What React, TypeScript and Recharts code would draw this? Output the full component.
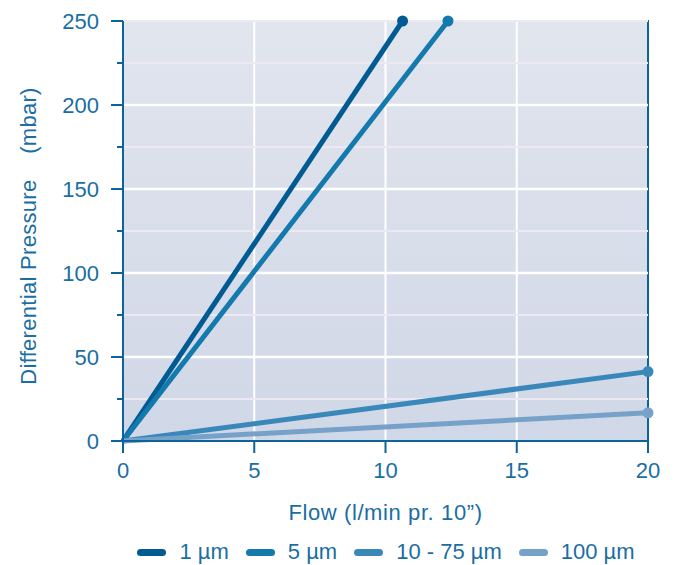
import React from 'react';
import {
  LineChart,
  Line,
  XAxis,
  YAxis,
  CartesianGrid,
  ReferenceLine,
  ReferenceArea,
  Legend
} from 'recharts';

// flow (l/min per 10") vs differential pressure (mbar)
const seriesNames = ['1 µm', '5 µm', '10 - 75 µm', '100 µm'];
const line1um = [{ flow: 0, dp: 0 }, { flow: 10.65, dp: 250 }];
const line5um = [{ flow: 0, dp: 0 }, { flow: 12.38, dp: 250 }];
const line10to75um = [{ flow: 0, dp: 0 }, { flow: 20, dp: 41.3 }];
const line100um = [{ flow: 0, dp: 0 }, { flow: 20, dp: 16.8 }];
const xTicks = [0, 5, 10, 15, 20];
const yTicks = [0, 25, 50, 75, 100, 125, 150, 175, 200, 225, 250];
const yMajor = [50, 100, 150, 200];

const seriesData = [line1um, line5um, line10to75um, line100um];
const colors = ['#005b93', '#1479ad', '#3a88ba', '#76a1c9'];
const AXIS = '#0d639c';
const TEXT = '#1a6ea3';
const FONT = '"Liberation Sans", Arial, sans-serif';
const FS = 22;
const LS = 0.6;

const YTick = ({ x, y, payload }: any) => {
  const major = payload.value % 50 === 0;
  return (
    <g>
      <line x1={x - (major ? 12 : 6)} x2={x} y1={y} y2={y} stroke={AXIS} strokeWidth={2} />
      {major && (
        <text x={x - 24} y={y} dy="0.36em" textAnchor="end" fill={TEXT} fontSize={FS} fontFamily={FONT}>
          {payload.value}
        </text>
      )}
    </g>
  );
};

const YLabel = ({ viewBox }: any) => {
  const cx = 28;
  const cy = viewBox.y + viewBox.height / 2 + 5;
  return (
    <text
      x={cx}
      y={cy}
      transform={`rotate(-90 ${cx} ${cy})`}
      textAnchor="middle"
      dominantBaseline="central"
      fill={TEXT}
      fontSize={FS}
      fontFamily={FONT}
      letterSpacing={0.3}
      style={{ whiteSpace: 'pre' }}
    >
      {'Differential Pressure    (mbar)'}
    </text>
  );
};

const endDot = (len: number, color: string) => (props: any) => {
  if (props.index !== len - 1) return <g key={props.index} />;
  return <circle key={props.index} cx={props.cx} cy={props.cy} r={5.5} fill={color} />;
};

const LegendContent = () => (
  <div
    style={{
      display: 'flex',
      justifyContent: 'center',
      alignItems: 'center',
      height: 26,
      paddingLeft: 124,
      boxSizing: 'border-box',
      fontFamily: FONT,
      fontSize: FS,
      color: TEXT
    }}
  >
    {seriesNames.map((name, i) => (
      <div key={name} style={{ display: 'flex', alignItems: 'center', marginRight: i < 3 ? 17 : 0 }}>
        <div style={{ width: 29, height: 7, borderRadius: 4, background: colors[i], marginRight: 13 }} />
        <span>{name}</span>
      </div>
    ))}
  </div>
);

export default function App() {
  return (
    <div style={{ position: 'absolute', left: 0, top: 0, background: '#fff' }}>
      <LineChart width={676} height={565} margin={{ top: 21, right: 28, bottom: 0, left: 0 }}>
        <defs>
          <linearGradient id="plotBg" x1="0" y1="0" x2="0" y2="1">
            <stop offset="0%" stopColor="#e1e5ee" />
            <stop offset="100%" stopColor="#d0d7e6" />
          </linearGradient>
        </defs>
        <CartesianGrid
          fill="url(#plotBg)"
          fillOpacity={1}
          stroke="#ffffff"
          strokeWidth={2}
          horizontal={false}
          vertical={true}
        />
        {yTicks.map((t) => (
          <ReferenceLine key={'m' + t} y={t} stroke="#ede9f2" strokeWidth={2} />
        ))}
        {yMajor.map((t) => (
          <ReferenceLine key={'M' + t} y={t} stroke="#ffffff" strokeWidth={2.5} />
        ))}
        <ReferenceArea x1={0} x2={20} y1={0} y2={250} fill="none" stroke={AXIS} strokeWidth={2} />
        <XAxis
          dataKey="flow"
          type="number"
          domain={[0, 20]}
          ticks={xTicks}
          height={98}
          tickSize={12}
          tickMargin={9}
          axisLine={{ stroke: AXIS, strokeWidth: 2 }}
          tickLine={{ stroke: AXIS, strokeWidth: 2 }}
          tick={{ fill: TEXT, fontSize: FS, fontFamily: FONT }}
          label={{
            value: 'Flow (l/min pr. 10”)',
            position: 'insideBottom',
            offset: 19,
            fill: TEXT,
            fontSize: FS,
            fontFamily: FONT,
            letterSpacing: LS
          }}
        />
        <YAxis
          dataKey="dp"
          type="number"
          domain={[0, 250]}
          ticks={yTicks}
          width={123}
          tickSize={0}
          tickMargin={0}
          interval={0}
          tickLine={false}
          axisLine={{ stroke: AXIS, strokeWidth: 2 }}
          tick={<YTick />}
          label={<YLabel />}
        />
        <Legend verticalAlign="bottom" height={26} content={<LegendContent />} />
        {seriesData.map((d, i) => (
          <Line
            key={seriesNames[i]}
            data={d}
            dataKey="dp"
            name={seriesNames[i]}
            type="linear"
            stroke={colors[i]}
            strokeWidth={5}
            dot={endDot(d.length, colors[i])}
            activeDot={false}
            isAnimationActive={false}
          />
        ))}
      </LineChart>
    </div>
  );
}
